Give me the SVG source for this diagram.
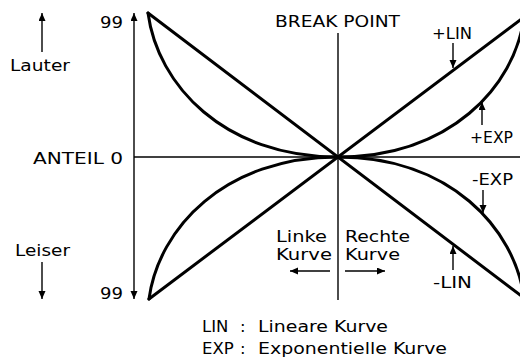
<svg xmlns="http://www.w3.org/2000/svg" width="520" height="360" viewBox="0 0 520 360">
<style>
text{font-family:"DejaVu Sans","Liberation Sans",sans-serif;font-size:16.5px;fill:#000}
.ax{stroke:#000;stroke-width:1.4;fill:none}
.cv{stroke:#000;stroke-width:3;fill:none;stroke-linecap:round;stroke-linejoin:round}
.ar{stroke:#000;stroke-width:1.4;fill:none;marker-end:url(#ah)}
</style>
<defs>
<marker id="ah" markerUnits="userSpaceOnUse" markerWidth="10" markerHeight="8" refX="8" refY="3.5" orient="auto-start-reverse">
<path d="M0,0 L8,3.5 L0,7 z" fill="#000"/>
</marker>
</defs>
<rect width="520" height="360" fill="#fff"/>
<g id="connectors">
<line class="ar" x1="134" y1="299" x2="134" y2="13" marker-start="url(#ah)"/>
<line class="ax" x1="134" y1="157" x2="520" y2="157"/>
<line class="ax" x1="338" y1="33" x2="338" y2="300"/>
<line class="ar" x1="42" y1="52" x2="42" y2="13"/>
<line class="ar" x1="42" y1="262" x2="42" y2="299"/>
<line class="ar" x1="453" y1="43" x2="453" y2="68"/>
<line class="ar" x1="482" y1="125" x2="482" y2="102"/>
<line class="ar" x1="483" y1="190" x2="483" y2="213"/>
<line class="ar" x1="453" y1="270" x2="453" y2="246"/>
<line class="ar" x1="330" y1="271" x2="290" y2="271"/>
<line class="ar" x1="345" y1="271" x2="385" y2="271"/>
</g>
<g id="curves">
<line class="cv" x1="148" y1="13" x2="524" y2="298"/>
<line class="cv" x1="149" y1="299" x2="524" y2="17"/>
<path class="cv" d="M148,13 C157.5,85 224,157 338,157"/>
<path class="cv" d="M149,299 C158.5,228 225,157 338,157"/>
<path class="cv" d="M338,157 C449.6,157 514.7,87 524,17"/>
<path class="cv" d="M338,157 C449.6,157 514.7,228 524,298"/>
</g>
<g id="labels">
<text x="100" y="28" textLength="23" lengthAdjust="spacingAndGlyphs">99</text>
<text x="100" y="299" textLength="23" lengthAdjust="spacingAndGlyphs">99</text>
<text x="10" y="71" textLength="60" lengthAdjust="spacingAndGlyphs">Lauter</text>
<text x="15" y="256" textLength="55" lengthAdjust="spacingAndGlyphs">Leiser</text>
<text x="33" y="164" textLength="90" lengthAdjust="spacingAndGlyphs">ANTEIL 0</text>
<text x="275" y="27" textLength="125" lengthAdjust="spacingAndGlyphs">BREAK POINT</text>
<text x="432" y="39" textLength="40" lengthAdjust="spacingAndGlyphs">+LIN</text>
<text x="470" y="143" textLength="43" lengthAdjust="spacingAndGlyphs">+EXP</text>
<text x="472" y="185" textLength="41" lengthAdjust="spacingAndGlyphs">-EXP</text>
<text x="433" y="288" textLength="39" lengthAdjust="spacingAndGlyphs">-LIN</text>
<text x="276" y="242" textLength="51" lengthAdjust="spacingAndGlyphs">Linke</text>
<text x="276" y="260" textLength="56" lengthAdjust="spacingAndGlyphs">Kurve</text>
<text x="345" y="242" textLength="65" lengthAdjust="spacingAndGlyphs">Rechte</text>
<text x="345" y="260" textLength="55" lengthAdjust="spacingAndGlyphs">Kurve</text>
<text y="332"><tspan x="202">LIN</tspan><tspan x="240">:</tspan><tspan x="258" textLength="130" lengthAdjust="spacingAndGlyphs">Lineare Kurve</tspan></text>
<text y="354"><tspan x="202">EXP</tspan><tspan x="240">:</tspan><tspan x="258" textLength="189" lengthAdjust="spacingAndGlyphs">Exponentielle Kurve</tspan></text>
</g>
</svg>
